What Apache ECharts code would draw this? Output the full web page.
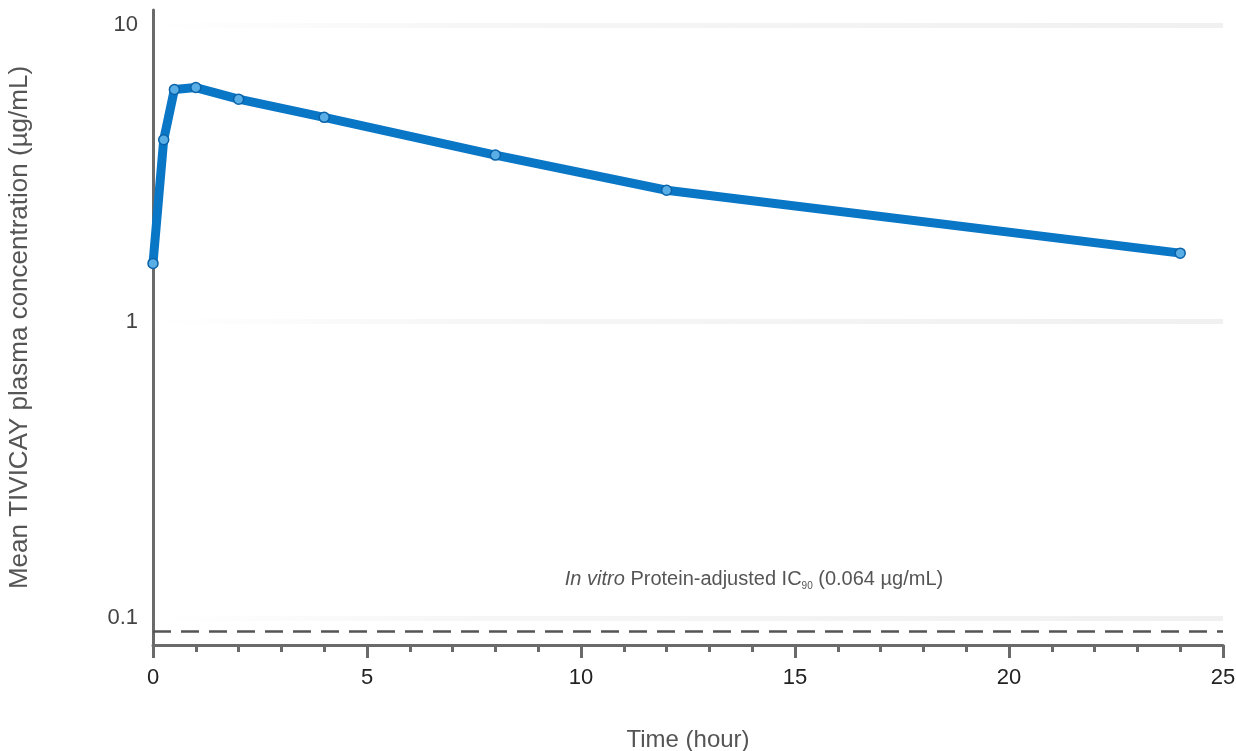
<!DOCTYPE html>
<html>
<head>
<meta charset="utf-8">
<script src="https://cdn.jsdelivr.net/npm/echarts@6/dist/echarts.min.js"></script>
<style>
  html, body { margin: 0; padding: 0; background: #fff; }
  #chart { width: 1236px; height: 751px; }
</style>
</head>
<body>
<div id="chart"></div>
<script>
// time after dose (hour)
const hours = [0, 0.25, 0.5, 1, 2, 4, 8, 12, 24];
// mean concentration (ug/mL)
const conc = [1.57, 4.1, 6.06, 6.15, 5.62, 4.88, 3.64, 2.77, 1.7];
// horizontal guides on the log axis
const gridValues = [0.1, 1, 10];
// IC90 reference line, where it sits in the picture
const ic90Drawn = 0.09;

const FONT = "'Liberation Sans', Arial, sans-serif";

const myChart = echarts.init(document.getElementById("chart"));

const fadeGrey = new echarts.graphic.LinearGradient(0, 0, 1, 0, [
  { offset: 0, color: "rgba(240,240,240,0)" },
  { offset: 0.3, color: "rgba(240,240,240,0.6)" },
  { offset: 1, color: "#f0f0f0" },
]);

let option = {
  animation: false,
  backgroundColor: "#fff",
  grid: { left: 153, right: 13, top: 10, bottom: 106, outerBoundsMode: "none", containLabel: false },
  xAxis: {
    type: "value",
    min: 0,
    max: 25,
    interval: 5,
    name: "Time (hour)",
    nameLocation: "middle",
    nameGap: 83,
    nameTextStyle: { fontFamily: FONT, fontSize: 24, color: "#555" },
    axisLine: { lineStyle: { color: "#6a6a6a", width: 3 } },
    axisTick: { show: true, length: 13, lineStyle: { color: "#6a6a6a", width: 3 } },
    minorTick: { show: true, splitNumber: 5, length: 7, lineStyle: { color: "#6a6a6a", width: 3 } },
    axisLabel: { fontFamily: FONT, fontSize: 22, color: "#222", margin: 22 },
    splitLine: { show: false },
  },
  yAxis: {
    type: "log",
    logBase: 10,
    min: 0.0811,
    max: 11.23,
    name: "Mean TIVICAY plasma concentration (\u00b5g/mL)",
    nameLocation: "middle",
    nameGap: 120,
    nameTextStyle: { fontFamily: FONT, fontSize: 26, color: "#555" },
    axisLine: { show: true, lineStyle: { color: "#6a6a6a", width: 3 } },
    axisTick: { show: false },
    axisLabel: {
      fontFamily: FONT,
      fontSize: 22,
      color: "#444",
      margin: 15,
      showMinLabel: false,
      showMaxLabel: false,
      formatter: (v) => (gridValues.some((g) => Math.abs(g - v) < 1e-9) ? String(v) : ""),
    },
    splitLine: { show: false },
  },
  series: [
    {
      type: "line",
      data: hours.map((h, i) => [h, conc[i]]),
      lineStyle: { color: "#0a76c6", width: 9 },
      symbol: "circle",
      symbolSize: 10,
      itemStyle: { color: "#5aaee6", borderColor: "#0a62a8", borderWidth: 1.5 },
      z: 5,
      markLine: {
        silent: true,
        symbol: "none",
        animation: false,
        data: [
          ...gridValues.map((g) => ({
            yAxis: g,
            lineStyle: { color: fadeGrey, width: 5, type: "solid" },
            label: { show: false },
          })),
          {
            yAxis: ic90Drawn,
            lineStyle: { color: "#555", width: 2.5, type: [18, 10] },
            label: {
              show: true,
              position: "insideMiddleTop",
              distance: 40,
              padding: [0, 0, 0, 132],
              fontFamily: FONT,
              fontSize: 20,
              color: "#555",
              formatter: "{i|In vitro} Protein-adjusted IC{s|90} (0.064 \u00b5g/mL)",
              rich: {
                i: { fontStyle: "italic", fontFamily: FONT, fontSize: 20, color: "#555" },
                s: { fontFamily: FONT, fontSize: 10, color: "#555", padding: [14, 0, 0, 0] },
              },
            },
          },
        ],
      },
    },
  ],
};

myChart.setOption(option);
window.onresize = () => {
  myChart.resize();
};
</script>
</body>
</html>
